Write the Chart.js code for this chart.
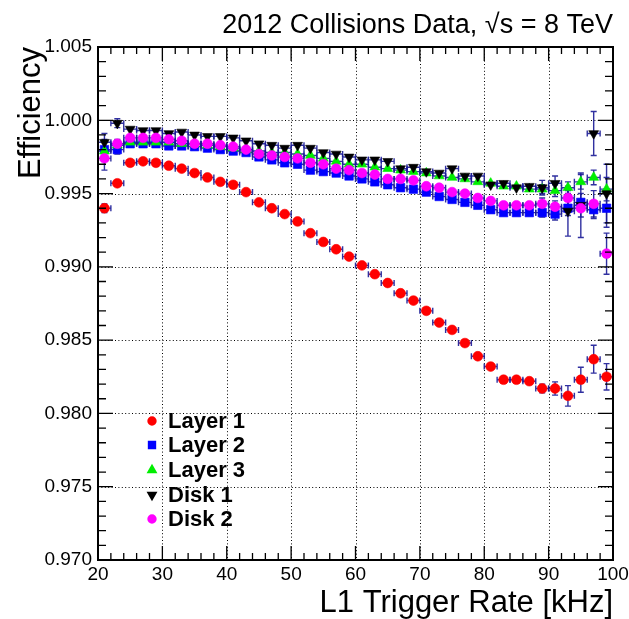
<!DOCTYPE html>
<html><head><meta charset="utf-8">
<script src="https://cdn.jsdelivr.net/npm/chart.js@4/dist/chart.umd.min.js"></script>
<style>html,body{margin:0;padding:0;background:#fff;}#wrap{width:629px;height:619px;}</style>
</head><body><div id="wrap"><canvas id="c" width="629" height="619"></canvas></div>
<script>
// ---- data ----
const rateBins = [21,23,25,27,29,31,33,35,37,39,41,43,45,47,49,51,53,55,57,59,61,63,65,67,69,71,73,75,77,79,81,83,85,87,89,91,93,95,97,99];
const binHalfWidth = 1;
const xTickValues = [20,30,40,50,60,70,80,90,100];
const yTickValues = [0.970,0.975,0.980,0.985,0.990,0.995,1.000,1.005];
const seriesNames = ["Layer 1","Layer 2","Layer 3","Disk 1","Disk 2"];

const layer1 = [0.9940,0.9957,0.9971,0.9972,0.9971,0.9969,0.9967,0.9964,0.9961,0.9958,0.9956,0.9951,0.9944,0.9940,0.9936,0.9931,0.9923,0.9917,0.9912,0.9907,0.9901,0.9895,0.9889,0.9882,0.9877,0.9870,0.9862,0.9857,0.9848,0.9839,0.9832,0.9823,0.9823,0.9822,0.9817,0.9817,0.9812,0.9823,0.9837,0.9825];
const layer2 = [0.9980,0.9980,0.9984,0.9984,0.9984,0.99825,0.99825,0.9982,0.9981,0.9980,0.9979,0.9978,0.9975,0.9973,0.9971,0.9970,0.9966,0.9965,0.9964,0.9962,0.9960,0.9958,0.9956,0.9954,0.9953,0.9951,0.9948,0.9946,0.9944,0.9942,0.9939,0.9937,0.9937,0.9937,0.9937,0.9936,0.9940,0.9944,0.9939,0.9940];
const layer3 = [0.9979,0.9983,0.9985,0.9985,0.9985,0.9985,0.9984,0.9984,0.9983,0.9982,0.9981,0.9980,0.9979,0.9978,0.9978,0.9977,0.9976,0.9974,0.9972,0.9970,0.9970,0.9968,0.9967,0.9966,0.9965,0.9964,0.9962,0.9961,0.9960,0.9958,0.9957,0.9955,0.9955,0.9953,0.9953,0.9952,0.9954,0.9958,0.9961,0.9953];
const disk1  = [0.9985,0.9998,0.9994,0.9993,0.9993,0.9991,0.9992,0.9990,0.9989,0.9989,0.9988,0.9986,0.9984,0.9983,0.9981,0.9983,0.9981,0.9978,0.9977,0.9975,0.9973,0.9973,0.9972,0.9967,0.9968,0.9965,0.9964,0.9967,0.9962,0.9962,0.9956,0.9957,0.9954,0.9955,0.9954,0.9957,0.9938,0.9942,0.9991,0.9950];
const disk2  = [0.9974,0.9984,0.9988,0.9988,0.9988,0.9987,0.9986,0.9984,0.9984,0.9983,0.9982,0.9980,0.9977,0.9976,0.9975,0.9974,0.9971,0.9970,0.9967,0.9966,0.9964,0.9963,0.9960,0.9960,0.9959,0.9955,0.9954,0.9951,0.9950,0.9947,0.9945,0.9942,0.9942,0.9942,0.9943,0.9941,0.9947,0.9940,0.9943,0.9909];

const layer1Err = [0.0003,0.0002,0.0001,0.0001,0.0001,0.0001,0.0001,0.0001,0.0001,0.0001,0.0001,0.0001,0.0001,0.0001,0.0001,0.0001,0.0001,0.0001,0.0001,0.0001,0.0001,0.0001,0.0001,0.0001,0.0001,0.0001,0.0001,0.0001,0.0001,0.0001,0.00012,0.00015,0.0002,0.0002,0.0003,0.00045,0.0007,0.00085,0.00095,0.0009];
const layer2Err = [0.0007,0.0003,0.0001,0.0001,0.0001,0.0001,0.0001,0.0001,0.0001,0.0001,0.0001,0.0001,0.0001,0.0001,0.0001,0.0001,0.0001,0.0001,0.0001,0.0001,0.0001,0.0001,0.0001,0.0001,0.0001,0.0001,0.0001,0.0001,0.0001,0.0001,0.00012,0.00015,0.0002,0.0002,0.0003,0.0004,0.0005,0.0006,0.0006,0.0013];
const layer3Err = [0.0007,0.0003,0.0001,0.0001,0.0001,0.0001,0.0001,0.0001,0.0001,0.0001,0.0001,0.0001,0.0001,0.0001,0.0001,0.0001,0.0001,0.0001,0.0001,0.0001,0.0001,0.0001,0.0001,0.0001,0.0001,0.0001,0.0001,0.0001,0.0001,0.0001,0.00012,0.00015,0.0002,0.0002,0.0003,0.0004,0.0004,0.0005,0.0005,0.0008];
const disk1Err  = [0.0006,0.0003,0.0001,0.0001,0.0001,0.0001,0.0001,0.0001,0.0001,0.0001,0.0001,0.0001,0.0001,0.0001,0.0001,0.0001,0.0001,0.0001,0.0001,0.0001,0.0001,0.0001,0.0001,0.0001,0.0001,0.0001,0.0001,0.0001,0.0001,0.0001,0.00012,0.00015,0.0002,0.0002,0.0005,0.0005,0.0017,0.0022,0.0015,0.0020];
const disk2Err  = [0.0008,0.0003,0.0001,0.0001,0.0001,0.0001,0.0001,0.0001,0.0001,0.0001,0.0001,0.0001,0.0001,0.0001,0.0001,0.0001,0.0001,0.0001,0.0001,0.0001,0.0001,0.0001,0.0001,0.0001,0.0001,0.0001,0.0001,0.0001,0.0001,0.0001,0.00012,0.00015,0.0002,0.0002,0.0004,0.0004,0.0005,0.0006,0.0009,0.0014];

// ---- build ----
const FONT = '"Liberation Sans", Arial, Helvetica, sans-serif';
const seriesValues = [layer1, layer2, layer3, disk1, disk2];
const seriesErrors = [layer1Err, layer2Err, layer3Err, disk1Err, disk2Err];
const styles = [
  {color:'#ff0000', pointStyle:'circle', radius:4.9, rotation:0, order:5},
  {color:'#0000ff', pointStyle:'rect', radius:6.0, rotation:0, order:4},
  {color:'#00ee00', pointStyle:'triangle', radius:5.7, rotation:0, order:3},
  {color:'#000000', pointStyle:'triangle', radius:5.7, rotation:180, order:2},
  {color:'#ff00ff', pointStyle:'circle', radius:4.9, rotation:0, order:1}
];
const datasets = seriesValues.map((vals, s) => ({
  label: seriesNames[s],
  data: rateBins.map((x, i) => ({x: x, y: vals[i]})),
  errors: seriesErrors[s],
  pointStyle: styles[s].pointStyle,
  pointRotation: styles[s].rotation,
  pointRadius: styles[s].radius,
  pointHoverRadius: styles[s].radius,
  backgroundColor: styles[s].color,
  borderColor: styles[s].color,
  pointBorderWidth: 0.6,
  order: styles[s].order,
  showLine: false
}));

const rootPlugin = {
  id: 'rootStyle',
  beforeDatasetsDraw(chart) {
    const ctx = chart.ctx, a = chart.chartArea, xs = chart.scales.x, ys = chart.scales.y;
    ctx.save();
    ctx.strokeStyle = '#000'; ctx.lineWidth = 1; ctx.setLineDash([1, 2.4]);
    xTickValues.slice(1, -1).forEach(v => {
      const p = Math.round(xs.getPixelForValue(v)) + 0.5;
      ctx.beginPath(); ctx.moveTo(p, a.top); ctx.lineTo(p, a.bottom); ctx.stroke();
    });
    yTickValues.slice(1, -1).forEach(v => {
      const p = Math.round(ys.getPixelForValue(v)) + 0.5;
      ctx.beginPath(); ctx.moveTo(a.left, p); ctx.lineTo(a.right, p); ctx.stroke();
    });
    ctx.setLineDash([]);
    ctx.strokeStyle = 'rgba(25,25,150,0.9)'; ctx.lineWidth = 1.4;
    chart.data.datasets.forEach(ds => {
      ds.data.forEach((pt, i) => {
        const px = xs.getPixelForValue(pt.x), py = ys.getPixelForValue(pt.y);
        const x0 = xs.getPixelForValue(pt.x - binHalfWidth), x1 = xs.getPixelForValue(pt.x + binHalfWidth);
        const e = ds.errors[i];
        const y0 = ys.getPixelForValue(pt.y - e), y1 = ys.getPixelForValue(pt.y + e);
        ctx.beginPath();
        ctx.moveTo(x0, py); ctx.lineTo(x1, py);
        ctx.moveTo(x0, py - 3); ctx.lineTo(x0, py + 3);
        ctx.moveTo(x1, py - 3); ctx.lineTo(x1, py + 3);
        ctx.moveTo(px, y0); ctx.lineTo(px, y1);
        if (Math.abs(y0 - y1) > 6) {
          ctx.moveTo(px - 3, y0); ctx.lineTo(px + 3, y0);
          ctx.moveTo(px - 3, y1); ctx.lineTo(px + 3, y1);
        }
        ctx.stroke();
      });
    });
    ctx.restore();
  },
  afterDraw(chart) {
    const ctx = chart.ctx, a = chart.chartArea, xs = chart.scales.x, ys = chart.scales.y;
    ctx.save();
    ctx.strokeStyle = '#000'; ctx.lineWidth = 1.3;
    for (let v = 20; v <= 100.001; v += 2) {
      const p = xs.getPixelForValue(v);
      const major = Math.abs(v % 10) < 1e-6;
      const L = major ? 14 : 7;
      ctx.beginPath();
      ctx.moveTo(p, a.bottom); ctx.lineTo(p, a.bottom - L);
      ctx.moveTo(p, a.top); ctx.lineTo(p, a.top + L);
      ctx.stroke();
    }
    for (let k = 0; k <= 35; k++) {
      const v = 0.970 + k * 0.001;
      const p = ys.getPixelForValue(v);
      const L = (k % 5 === 0) ? 15 : 8;
      ctx.beginPath();
      ctx.moveTo(a.left, p); ctx.lineTo(a.left + L, p);
      ctx.moveTo(a.right, p); ctx.lineTo(a.right - L, p);
      ctx.stroke();
    }
    ctx.lineWidth = 2;
    ctx.strokeRect(a.left, a.top, a.right - a.left, a.bottom - a.top);
    ctx.fillStyle = '#000';
    ctx.font = '19px ' + FONT;
    ctx.textAlign = 'center'; ctx.textBaseline = 'top';
    xTickValues.forEach(v => ctx.fillText(String(v), xs.getPixelForValue(v), a.bottom + 5));
    ctx.textAlign = 'right'; ctx.textBaseline = 'middle';
    yTickValues.forEach(v => ctx.fillText(v.toFixed(3), a.left - 6, ys.getPixelForValue(v)));
    ctx.font = '31px ' + FONT;
    ctx.textAlign = 'right'; ctx.textBaseline = 'alphabetic';
    ctx.fillText('L1 Trigger Rate [kHz]', a.right, 612);
    ctx.save();
    ctx.translate(31, a.top);
    ctx.rotate(-Math.PI / 2);
    ctx.textAlign = 'right'; ctx.textBaseline = 'middle';
    ctx.fillText('Efficiency', 0, 0);
    ctx.restore();
    ctx.font = '27px ' + FONT;
    ctx.textAlign = 'right'; ctx.textBaseline = 'alphabetic';
    ctx.fillText('2012 Collisions Data, \u221As = 8 TeV', a.right, 33);
    const rows = [421, 445, 470, 495, 519];
    chart.data.datasets.forEach((ds, s) => {
      const y = rows[s];
      ctx.fillStyle = styles[s].color; ctx.strokeStyle = styles[s].color;
      Chart.helpers.drawPoint(ctx, {pointStyle: styles[s].pointStyle, rotation: styles[s].rotation, radius: styles[s].radius * 0.75, borderWidth: 0.5}, 152, y);
      ctx.fillStyle = '#000';
      ctx.font = 'bold 22px ' + FONT;
      ctx.textAlign = 'left'; ctx.textBaseline = 'middle';
      ctx.fillText(ds.label, 168, y + 1);
    });
    ctx.restore();
  }
};

new Chart(document.getElementById('c'), {
  type: 'scatter',
  data: { datasets: datasets },
  options: {
    responsive: false,
    devicePixelRatio: 1,
    animation: false,
    layout: { padding: { left: 98, right: 16, top: 47, bottom: 59 } },
    plugins: { legend: { display: false }, tooltip: { enabled: false } },
    scales: {
      x: { type: 'linear', min: 20, max: 100, display: false },
      y: { type: 'linear', min: 0.970, max: 1.005, display: false }
    }
  },
  plugins: [rootPlugin]
});
</script></body></html>
